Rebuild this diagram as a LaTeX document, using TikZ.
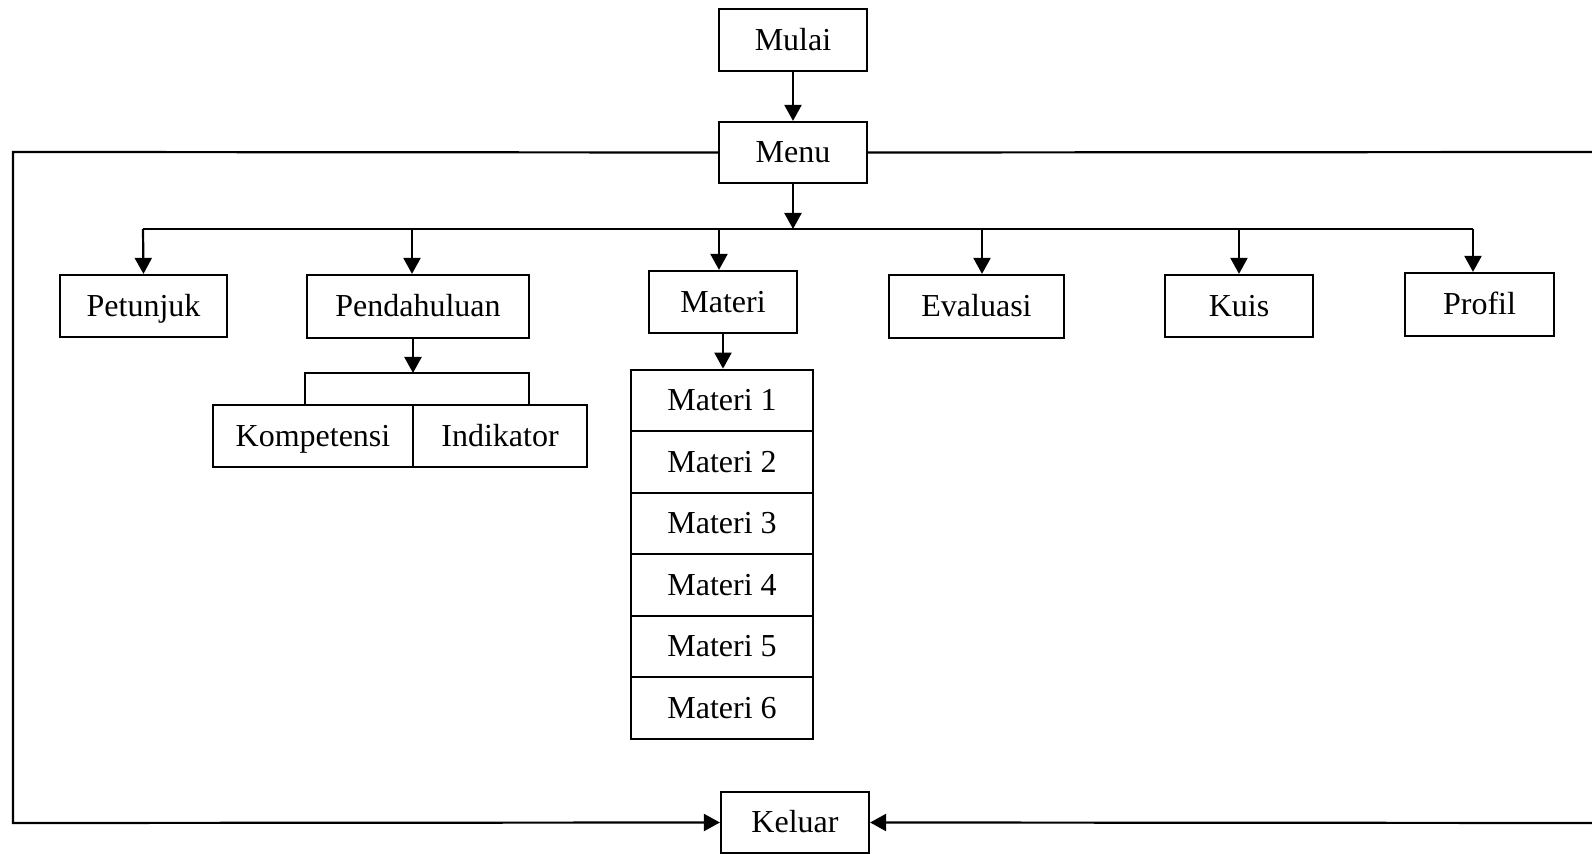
\documentclass[tikz,border=0pt]{standalone}
\usepackage{fontspec}
\setmainfont{Liberation Serif}
\usetikzlibrary{arrows.meta}
\begin{document}
\begin{tikzpicture}[x=0.5pt,y=-0.5pt,
  box/.style={draw,line width=1.1pt,inner sep=0pt,text height=12.5pt,text depth=2pt,font=\fontsize{16}{18}\selectfont},
  ln/.style={line width=1.1pt},
  arr/.style={line width=1.1pt,-{Triangle[length=8pt,width=8.5pt]}}]
\useasboundingbox (0,0) rectangle (1592,854);
% boxes
\node[box,minimum width=74pt,minimum height=31pt] (mulai) at (793,40) {Mulai};
\node[box,minimum width=74pt,minimum height=30.5pt] (menu) at (793,152.5) {Menu};
\node[box,minimum width=83.5pt,minimum height=31pt] (petunjuk) at (143.5,306) {Petunjuk};
\node[box,minimum width=111pt,minimum height=31.5pt] (pend) at (418,306.5) {Pendahuluan};
\node[box,minimum width=74pt,minimum height=31pt] (materi) at (723,302) {Materi};
\node[box,minimum width=87.5pt,minimum height=31.5pt] (eval) at (976.5,306.5) {Evaluasi};
\node[box,minimum width=74pt,minimum height=31pt] (kuis) at (1239,306) {Kuis};
\node[box,minimum width=74.5pt,minimum height=31.5pt] (profil) at (1479.5,304.5) {Profil};
\node[box,minimum width=100pt,minimum height=31pt] (komp) at (313,436) {Kompetensi};
\node[box,minimum width=87pt,minimum height=31pt] (indi) at (500,436) {Indikator};
\node[box,minimum width=91pt,minimum height=30.75pt] (m1) at (722,400.5) {Materi 1};
\node[box,minimum width=91pt,minimum height=30.75pt] (m2) at (722,462) {Materi 2};
\node[box,minimum width=91pt,minimum height=30.75pt] (m3) at (722,523.5) {Materi 3};
\node[box,minimum width=91pt,minimum height=30.75pt] (m4) at (722,585) {Materi 4};
\node[box,minimum width=91pt,minimum height=30.75pt] (m5) at (722,646.5) {Materi 5};
\node[box,minimum width=91pt,minimum height=30.75pt] (m6) at (722,708) {Materi 6};
\node[box,minimum width=74pt,minimum height=30.5pt] (keluar) at (795,822.5) {Keluar};
% coordinates
\coordinate (bus) at (793,229);
\coordinate (bL) at (143,229);
\coordinate (bR) at (1473,229);
\coordinate (b2) at (412,229);
\coordinate (b3) at (719,229);
\coordinate (b4) at (982,229);
\coordinate (b5) at (1239,229);
\coordinate (lt) at (13,152);
\coordinate (lb) at (13,823);
\coordinate (rt) at (1600,152);
\coordinate (rb) at (1600,823);
\coordinate (brm) at (413,373);
\coordinate (brl) at (305,373);
\coordinate (brr) at (529,373);
\coordinate (brl2) at (305,405);
\coordinate (brr2) at (529,405);
% connectors
\draw[arr] (mulai) -- (menu);
\draw[arr] (menu) -- (bus);
\draw[ln] (bL) -- (bR);
\draw[arr] (bL) -- (petunjuk.north);
\draw[arr] (b2) -- (b2 |- pend.north);
\draw[arr] (b3) -- (b3 |- materi.north);
\draw[arr] (b4) -- (b4 |- eval.north);
\draw[arr] (b5) -- (b5 |- kuis.north);
\draw[arr] (bR) -- (bR |- profil.north);
\draw[arr] (brm |- pend.south) -- (brm);
\draw[ln] (brl2) -- (brl) -- (brr) -- (brr2);
\draw[arr] (materi.south) -- (materi.south |- m1.north);
\draw[arr] (menu.west) -- (lt) -- (lb) -- (keluar.west);
\draw[ln] (menu.east) -- (rt);
\draw[arr] (rb) -- (keluar.east);
\end{tikzpicture}
\end{document}
